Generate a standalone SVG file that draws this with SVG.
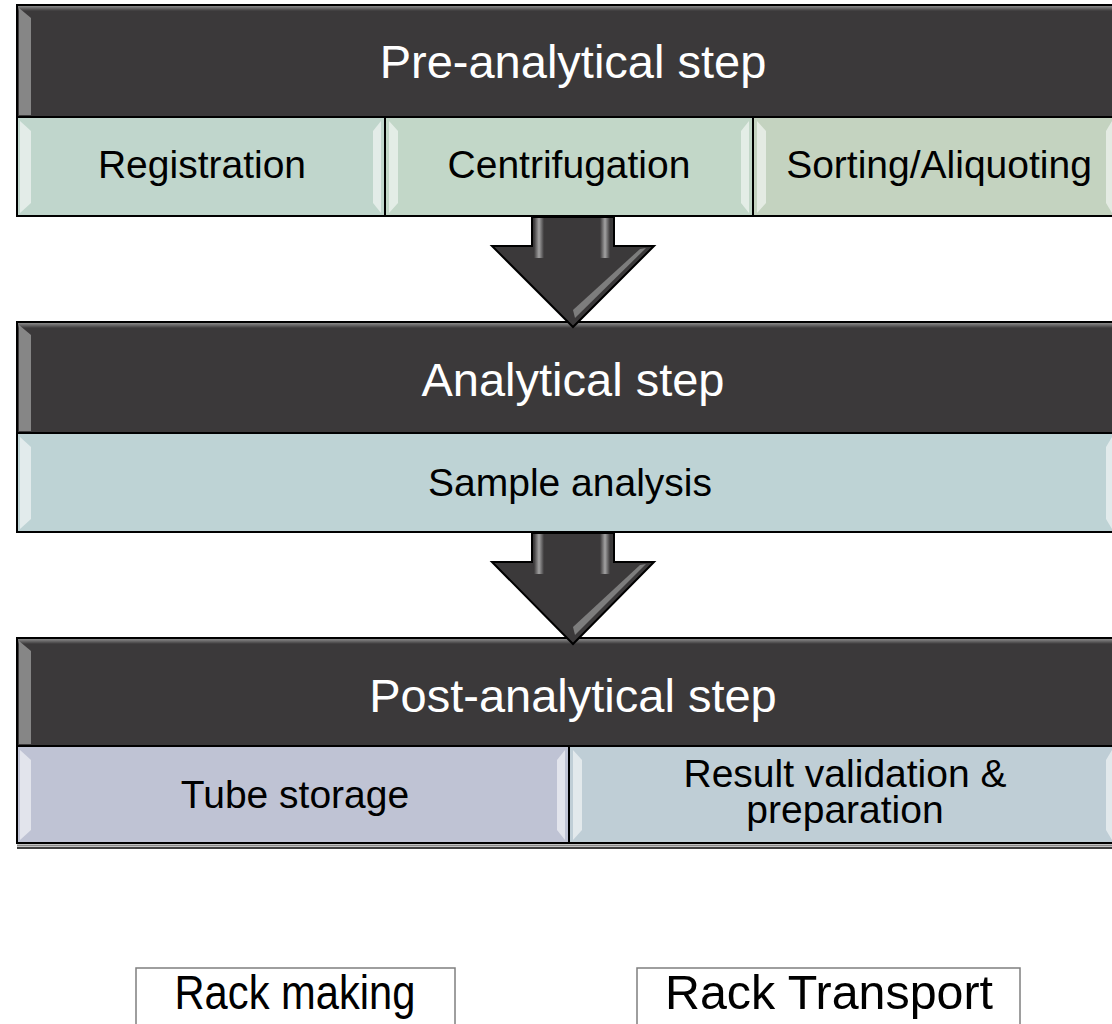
<svg xmlns="http://www.w3.org/2000/svg" width="1112" height="1024" viewBox="0 0 1112 1024">
<style>
.hdr{fill:#3b393a;stroke:#000;stroke-width:2}
.cell{stroke:#000;stroke-width:2}
.ttl{font-family:"Liberation Sans",Arial,sans-serif;font-size:47px;fill:#fff;text-anchor:middle}
.sub{font-family:"Liberation Sans",Arial,sans-serif;font-size:39px;fill:#000;text-anchor:middle}
.box{fill:#fff;stroke:#7f7f7f;stroke-width:1.5}
.btxt{font-family:"Liberation Sans",Arial,sans-serif;font-size:49px;fill:#000;text-anchor:middle}
.hl{fill:#fff;opacity:0.55}
.hlD{fill:#9a9a9a;opacity:0.8}
.arr{fill:#3b393a;stroke:#000;stroke-width:2;stroke-linejoin:miter}
</style>
<defs>
<linearGradient id="topSheen" x1="0" y1="0" x2="0" y2="1">
<stop offset="0" stop-color="#8a8a8a"/>
<stop offset="1" stop-color="#3b393a"/>
</linearGradient>
<linearGradient id="shaftHl" x1="0" y1="0" x2="1" y2="0">
<stop offset="0" stop-color="#3b393a"/>
<stop offset="0.5" stop-color="#bdbdbd"/>
<stop offset="1" stop-color="#3b393a"/>
</linearGradient>
</defs>

<g id="pre-analytical">
<rect class="hdr" x="17" y="5" width="1110" height="112"/>
<rect x="18" y="6" width="1108" height="5" fill="url(#topSheen)"/>
<polygon class="hlD" points="19,8 31,18 31,115 19,115"/>
<text class="ttl" x="573" y="78">Pre-analytical step</text>
<rect class="cell" x="17" y="117" width="368" height="99" fill="#c0d6cc"/>
<rect class="cell" x="385" y="117" width="368" height="99" fill="#c2d7c8"/>
<rect class="cell" x="753" y="117" width="374" height="99" fill="#c4d3c0"/>
<polygon class="hl" points="20,121 31,131 31,203 20,213"/>
<polygon class="hl" points="381,121 373,131 373,203 381,213"/>
<polygon class="hl" points="389,121 398,131 398,203 389,213"/>
<polygon class="hl" points="749,121 741,131 741,203 749,213"/>
<polygon class="hl" points="757,121 766,131 766,203 757,213"/>
<polygon class="hl" points="1112,121 1106,131 1106,203 1112,213"/>
<text class="sub" x="202" y="178">Registration</text>
<text class="sub" x="569" y="178">Centrifugation</text>
<text class="sub" x="939" y="178">Sorting/Aliquoting</text>
</g>

<g id="analytical">
<rect class="hdr" x="17" y="322" width="1110" height="111"/>
<rect x="18" y="323" width="1108" height="5" fill="url(#topSheen)"/>
<polygon class="hlD" points="19,325 31,335 31,431 19,431"/>
<text class="ttl" x="573" y="396">Analytical step</text>
<rect class="cell" x="17" y="433" width="1110" height="99" fill="#bed3d5"/>
<polygon class="hl" points="20,437 31,447 31,519 20,529"/>
<polygon class="hl" points="1112,437 1106,447 1106,519 1112,529"/>
<text class="sub" x="570" y="496">Sample analysis</text>
</g>

<g id="post-analytical">
<rect class="hdr" x="17" y="638" width="1110" height="108"/>
<rect x="18" y="639" width="1108" height="5" fill="url(#topSheen)"/>
<polygon class="hlD" points="19,641 31,651 31,744 19,744"/>
<text class="ttl" x="573" y="712">Post-analytical step</text>
<rect class="cell" x="17" y="746" width="552" height="97" fill="#bfc3d4"/>
<rect class="cell" x="569" y="746" width="558" height="97" fill="#bfced6"/>
<line x1="17" y1="848" x2="1112" y2="848" stroke="#000" stroke-width="1.5"/>
<line x1="17" y1="845.5" x2="1112" y2="845.5" stroke="#888" stroke-width="2"/>
<polygon class="hl" points="20,750 31,760 31,830 20,840"/>
<polygon class="hl" points="565,750 557,760 557,830 565,840"/>
<polygon class="hl" points="573,750 582,760 582,830 573,840"/>
<polygon class="hl" points="1112,750 1106,760 1106,830 1112,840"/>
<text class="sub" x="295" y="808">Tube storage</text>
<text class="sub" x="845" y="787">Result validation &amp;</text>
<text class="sub" x="845" y="823">preparation</text>
</g>

<g id="connectors">
<g id="arrow1">
<polygon class="arr" points="532,217 614,217 614,246 654,246 573,327 492,246 532,246"/>
<rect x="534" y="218" width="10" height="40" fill="url(#shaftHl)" opacity="0.8"/>
<rect x="600" y="218" width="10" height="40" fill="url(#shaftHl)" opacity="0.8"/>
<polygon points="646,248 575,318 573,310 640,249" fill="#8e8e8e" opacity="0.8"/>
</g>
<g id="arrow2">
<polygon class="arr" points="532,533 614,533 614,562 654,562 573,644 492,562 532,562"/>
<rect x="534" y="534" width="10" height="40" fill="url(#shaftHl)" opacity="0.8"/>
<rect x="600" y="534" width="10" height="40" fill="url(#shaftHl)" opacity="0.8"/>
<polygon points="646,564 575,635 573,627 640,565" fill="#8e8e8e" opacity="0.8"/>
</g>
</g>

<g id="rack-making">
<rect class="box" x="136" y="968" width="319" height="70"/>
<text class="btxt" x="295" y="1009" textLength="241" lengthAdjust="spacingAndGlyphs">Rack making</text>
</g>
<g id="rack-transport">
<rect class="box" x="637" y="968" width="383" height="70"/>
<text class="btxt" x="829" y="1009" textLength="328" lengthAdjust="spacingAndGlyphs">Rack Transport</text>
</g>
</svg>
